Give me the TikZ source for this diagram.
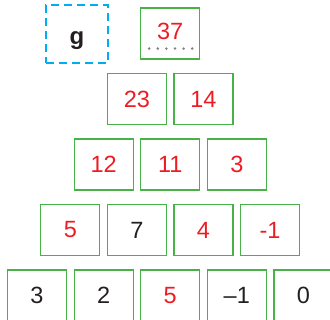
\documentclass[tikz,border=0pt]{standalone}
\usepackage{fontspec}
\setmainfont{Liberation Sans}
\definecolor{boxgreen}{RGB}{72,178,72}
\definecolor{numred}{RGB}{237,28,36}
\definecolor{numblack}{RGB}{35,31,32}
\definecolor{dashcyan}{RGB}{0,174,239}
\definecolor{dotgray}{RGB}{130,130,130}
\begin{document}
\begin{tikzpicture}[x=1pt,y=-1pt,
  cell/.style={draw=boxgreen,line width=1.2pt,minimum width=59pt,minimum height=51pt,inner sep=0pt,font=\fontsize{23.5}{26}\selectfont},
  rd/.style={cell,text=numred},
  bk/.style={cell,text=numblack},
  gbox/.style={draw=dashcyan,line width=1.6pt,dash pattern=on 8pt off 5pt,minimum width=62pt,minimum height=58pt,inner sep=0pt,font=\fontsize{24}{26}\selectfont\bfseries,text=numblack,text height=22pt,text depth=0pt}]
\useasboundingbox (0,0) rectangle (330,320);
\node[gbox] (g) at (77,34) {g};
\node[rd,text depth=5pt] (a1) at (170.2,33.5) {37};
\draw[dotgray,line width=2.8pt,line cap=round,dash pattern=on 0pt off 8.6pt] ([xshift=-21pt,yshift=11pt]a1.south) -- ([xshift=23pt,yshift=11pt]a1.south);
\node[rd] (b1) at (136.9,99) {23};
\node[rd] (b2) at (203.5,99) {14};
\node[rd] (c1) at (103.6,164.5) {12};
\node[rd] (c2) at (170.2,164.5) {11};
\node[rd] (c3) at (236.8,164.5) {3};
\node[rd] (d1) at (70.3,230) {5};
\node[bk] (d2) at (136.9,230) {7};
\node[rd] (d3) at (203.5,230) {4};
\node[rd] (d4) at (270.1,230) {-1};
\node[bk] (e1) at (37,295.5) {3};
\node[bk] (e2) at (103.6,295.5) {2};
\node[rd] (e3) at (170.2,295.5) {5};
\node[bk] (e4) at (236.8,295.5) {–1};
\node[bk] (e5) at (303.4,295.5) {0};
\end{tikzpicture}
\end{document}
